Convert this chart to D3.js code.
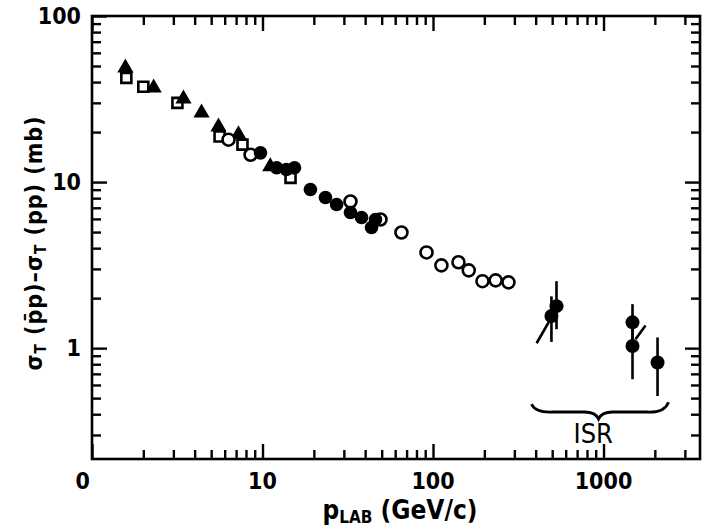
<!DOCTYPE html>
<html>
<head>
<meta charset="utf-8">
<script src="https://cdn.jsdelivr.net/npm/d3@7"></script>
<style>
  html, body { margin: 0; padding: 0; background: #fff; }
  svg { display: block; }
  text { font-family: "DejaVu Sans Condensed", "DejaVu Sans", sans-serif; fill: #000; }
</style>
</head>
<body>
<svg id="chart" width="705" height="531"></svg>
<script>
// Difference of total cross sections, sigma_T(pbar p) - sigma_T(pp), vs lab momentum.

// Filled triangles
const triP   = [1.57, 2.30, 3.44, 4.39, 5.52, 7.23, 11.1];
const triSig = [48.7, 36.9, 31.7, 26.1, 21.5, 19.3, 12.4];

// Open squares
const sqP   = [1.59, 2.00, 3.17, 5.6, 7.63, 14.6];
const sqSig = [42.4, 37.5, 30.0, 18.8, 16.8, 10.6];

// Open circles
const ocP   = [6.32, 8.51, 32.8, 49.2, 65.3, 91.6, 112, 141, 162, 195, 233, 277];
const ocSig = [18.0, 14.6, 7.64, 5.95, 4.97, 3.77, 3.15, 3.29, 2.94, 2.53, 2.56, 2.49];

// Filled circles
const fcP   = [9.73, 12.1, 13.8, 15.4, 19.1, 23.4, 27.2, 32.8, 38.1, 43.6, 46.0];
const fcSig = [15.0, 12.2, 11.9, 12.2, 9.02, 8.07, 7.33, 6.56, 6.12, 5.33, 5.95];

// ISR points with error bars
const isrP    = [495, 530, 1479, 1479, 2074];
const isrSig  = [1.56, 1.79, 1.43, 1.03, 0.82];
const isrLow  = [1.09, 1.30, 1.10, 0.65, 0.515];
const isrHigh = [2.05, 2.53, 1.84, 1.39, 1.16];

// Short slanted segments near the ISR points
const slashP0 = [405, 1541];
const slashS0 = [1.07, 1.13];
const slashP1 = [523, 1763];
const slashS1 = [1.69, 1.37];

// Brace under the ISR points (momentum span and height)
const braceP = [378, 935, 2405];
const braceSig = [0.46, 0.385];

// Axis ticks and labels
const xMajor = [1, 10, 100, 1000];
const xTickLabels = ["0", "10", "100", "1000"];
const yMajor = [1, 10, 100];
const yTickLabels = ["1", "10", "100"];

const svg = d3.select("#chart");
const L = 92, R = 700, T = 16, B = 459;

const x = d3.scaleLog().domain([1, 3680]).range([L, R]);
const y = d3.scaleLog().domain([0.215, 100]).range([B, T]);

const xMinor = x.ticks().filter(v => !xMajor.includes(v));
const yMinor = y.ticks().filter(v => !yMajor.includes(v) && v > 0.215);

const MAJ = 15, MIN = 9;
const axisStyle = g => {
  g.select(".domain").remove();
  g.selectAll("line").attr("stroke", "#000").attr("stroke-width", 2.4);
  g.selectAll("text").remove();
};

// ticks pointing inward on all four sides
svg.append("g").attr("transform", `translate(0,${B})`)
  .call(d3.axisBottom(x).tickValues(xMajor).tickSize(-MAJ)).call(axisStyle);
svg.append("g").attr("transform", `translate(0,${B})`)
  .call(d3.axisBottom(x).tickValues(xMinor).tickSize(-MIN)).call(axisStyle);
svg.append("g").attr("transform", `translate(0,${T})`)
  .call(d3.axisTop(x).tickValues(xMajor).tickSize(-MAJ)).call(axisStyle);
svg.append("g").attr("transform", `translate(0,${T})`)
  .call(d3.axisTop(x).tickValues(xMinor).tickSize(-MIN)).call(axisStyle);
svg.append("g").attr("transform", `translate(${L},0)`)
  .call(d3.axisLeft(y).tickValues(yMajor).tickSize(-MAJ)).call(axisStyle);
svg.append("g").attr("transform", `translate(${L},0)`)
  .call(d3.axisLeft(y).tickValues(yMinor).tickSize(-MIN)).call(axisStyle);
svg.append("g").attr("transform", `translate(${R},0)`)
  .call(d3.axisRight(y).tickValues(yMajor).tickSize(-MAJ)).call(axisStyle);
svg.append("g").attr("transform", `translate(${R},0)`)
  .call(d3.axisRight(y).tickValues(yMinor).tickSize(-MIN)).call(axisStyle);

// frame
svg.append("rect")
  .attr("x", L).attr("y", T).attr("width", R - L).attr("height", B - T)
  .attr("fill", "none").attr("stroke", "#000").attr("stroke-width", 2.6);

// tick labels
svg.append("g").selectAll("text").data(xMajor).join("text")
  .attr("x", d => x(d)).attr("y", B + 30)
  .attr("text-anchor", (d, i) => i === 0 ? "end" : "middle")
  .attr("dx", (d, i) => i === 0 ? -2 : 0)
  .attr("font-size", 23).attr("font-weight", "bold")
  .text((d, i) => xTickLabels[i]);

svg.append("g").selectAll("text").data(yMajor).join("text")
  .attr("x", L - 11).attr("y", d => y(d) + 8)
  .attr("text-anchor", "end")
  .attr("font-size", 23).attr("font-weight", "bold")
  .text((d, i) => yTickLabels[i]);

// axis titles
const xt = svg.append("text").attr("x", 400).attr("y", 519)
  .attr("text-anchor", "middle").attr("font-size", 26).attr("font-weight", "bold");
xt.append("tspan").text("p");
xt.append("tspan").attr("font-size", 17).attr("dy", 4).text("LAB");
xt.append("tspan").attr("dy", -4).text(" (GeV/c)");

const yt = svg.append("text")
  .attr("transform", `translate(42,243) rotate(-90)`)
  .attr("text-anchor", "middle").attr("font-size", 23).attr("font-weight", "bold")
  .attr("letter-spacing", 1);
yt.append("tspan").text("σ");
yt.append("tspan").attr("font-size", 15).attr("dy", 4).text("T");
yt.append("tspan").attr("dy", -4).text("  (p\u0304p)\u2013σ");
yt.append("tspan").attr("font-size", 15).attr("dy", 4).text("T");
yt.append("tspan").attr("dy", -4).text("  (pp)  (mb)");

const plot = svg.append("g");

// open squares
plot.append("g").selectAll("path").data(sqP).join("path")
  .attr("transform", (d, i) => `translate(${x(d)},${y(sqSig[i])})`)
  .attr("d", d3.symbol(d3.symbolSquare, 100))
  .attr("fill", "#fff").attr("stroke", "#000").attr("stroke-width", 2.6);

// filled triangles
plot.append("g").selectAll("path").data(triP).join("path")
  .attr("transform", (d, i) => `translate(${x(d)},${y(triSig[i])})`)
  .attr("d", d3.symbol(d3.symbolTriangle, 80))
  .attr("fill", "#000").attr("stroke", "#000").attr("stroke-width", 1.5);

// open circles
plot.append("g").selectAll("circle").data(ocP).join("circle")
  .attr("cx", d => x(d)).attr("cy", (d, i) => y(ocSig[i])).attr("r", 6)
  .attr("fill", "#fff").attr("stroke", "#000").attr("stroke-width", 2.6);

// filled circles
plot.append("g").selectAll("circle").data(fcP).join("circle")
  .attr("cx", d => x(d)).attr("cy", (d, i) => y(fcSig[i])).attr("r", 6.8)
  .attr("fill", "#000");

// ISR error bars and points
plot.append("g").selectAll("line").data(isrP).join("line")
  .attr("x1", d => x(d)).attr("x2", d => x(d))
  .attr("y1", (d, i) => y(isrLow[i])).attr("y2", (d, i) => y(isrHigh[i]))
  .attr("stroke", "#000").attr("stroke-width", 2.6);
plot.append("g").selectAll("circle").data(isrP).join("circle")
  .attr("cx", d => x(d)).attr("cy", (d, i) => y(isrSig[i])).attr("r", 7)
  .attr("fill", "#000");

plot.append("g").selectAll("line").data(slashP0).join("line")
  .attr("x1", d => x(d)).attr("y1", (d, i) => y(slashS0[i]))
  .attr("x2", (d, i) => x(slashP1[i])).attr("y2", (d, i) => y(slashS1[i]))
  .attr("stroke", "#000").attr("stroke-width", 2.6);

// brace under the ISR points
const bx0 = x(braceP[0]), bxm = x(braceP[1]), bx1 = x(braceP[2]);
const by0 = y(braceSig[0]), by1 = y(braceSig[1]);
const bm = by1 - 5;
svg.append("path")
  .attr("d", `M${bx0},${by0} Q${bx0 + 4},${bm + 1} ${bx0 + 22},${bm}
              L${bxm - 14},${bm} Q${bxm - 3},${bm} ${bxm},${by1 + 2}
              Q${bxm + 3},${bm} ${bxm + 14},${bm}
              L${bx1 - 22},${bm} Q${bx1 - 4},${bm + 1} ${bx1},${by0 - 2}`)
  .attr("fill", "none").attr("stroke", "#000").attr("stroke-width", 2.8);

svg.append("text").attr("x", x(870)).attr("y", y(braceSig[1]) + 26)
  .attr("text-anchor", "middle").attr("font-size", 27).text("ISR");
</script>
</body>
</html>
